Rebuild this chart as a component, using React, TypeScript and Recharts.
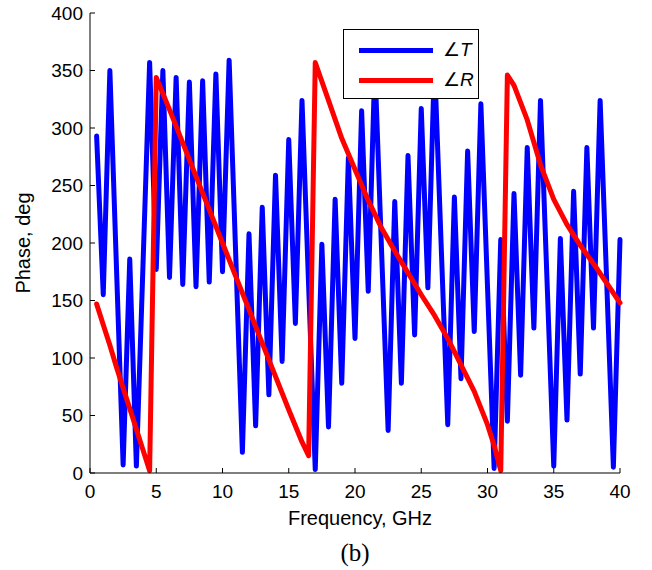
import { LineChart, Line, XAxis, YAxis, Legend } from "recharts";

// transmission phase, sampled every 0.5 GHz
const freqT = [
  0.5, 1, 1.5, 2, 2.5, 3, 3.5, 4, 4.5, 5, 5.5, 6, 6.5, 7, 7.5, 8, 8.5, 9, 9.5, 10,
  10.5, 11, 11.5, 12, 12.5, 13, 13.5, 14, 14.5, 15, 15.5, 16, 16.5, 17, 17.5, 18, 18.5, 19, 19.5, 20,
  20.5, 21, 21.5, 22, 22.5, 23, 23.5, 24, 24.5, 25, 25.5, 26, 26.5, 27, 27.5, 28, 28.5, 29, 29.5, 30,
  30.5, 31, 31.5, 32, 32.5, 33, 33.5, 34, 34.5, 35, 35.5, 36, 36.5, 37, 37.5, 38, 38.5, 39, 39.5, 40,
];
const phaseT = [
  293, 155, 350, 178, 7, 186, 6, 181, 357, 177, 350, 170, 344, 164, 340, 162, 341, 166, 347, 175,
  359, 189, 18, 208, 41, 231, 68, 259, 97, 290, 130, 324, 163, 3, 199, 40, 238, 78, 274, 117,
  315, 158, 355, 195, 37, 236, 78, 276, 120, 317, 161, 358, 199, 42, 240, 82, 280, 123, 321, 162,
  4, 203, 45, 243, 85, 283, 126, 324, 165, 6, 204, 46, 245, 86, 283, 126, 324, 165, 5, 203,
];

// reflection phase
const freqR = [
  0.5, 1, 1.5, 2, 2.5, 3, 3.5, 4, 4.5, 5, 6, 7, 8, 9, 10, 11, 12, 13, 14, 15, 16, 16.5,
  17, 18, 19, 20, 21, 22, 23, 24, 25, 26, 27, 28, 29, 30, 30.5, 31,
  31.5, 32, 33, 34, 35, 36, 37, 38, 39, 40,
];
const phaseR = [
  147, 129, 111, 92, 74, 56, 38, 20, 2, 344, 316, 287, 258, 229, 200, 171, 142, 113, 84, 55, 27, 15,
  357, 324, 291, 264, 237, 213, 193, 174, 155, 137, 117, 94, 71, 42, 24, 2,
  346, 337, 307, 268, 238, 216, 198, 182, 165, 148,
];

const xTicks = [0, 5, 10, 15, 20, 25, 30, 35, 40];
const yTicks = [0, 50, 100, 150, 200, 250, 300, 350, 400];

const dataT = freqT.map((f, i) => ({ f, p: phaseT[i] }));
const dataR = freqR.map((f, i) => ({ f, p: phaseR[i] }));

const tickStyle = { fill: "#000", fontSize: 19 };

function LegendBox() {
  const row = (color: string, label: string, top: number) => (
    <div style={{ position: "absolute", left: 0, top, width: "100%", height: 24 }}>
      <div style={{ position: "absolute", left: 15, top: 10, width: 74, height: 5, background: color }} />
      <span style={{ position: "absolute", left: 99, top: 0, fontSize: 19, lineHeight: "24px", color: "#000" }}>
        ∠<i>{label}</i>
      </span>
    </div>
  );
  return (
    <div
      style={{
        position: "relative",
        width: 134,
        height: 68,
        border: "1px solid #000",
        background: "#fff",
      }}
    >
      {row("#0000ff", "T", 8)}
      {row("#ff0000", "R", 38)}
    </div>
  );
}

export default function App() {
  return (
    <div
      style={{
        position: "absolute",
        left: 0,
        top: 0,
        width: 652,
        height: 570,
        background: "#fff",
        fontFamily: "'Liberation Sans', Arial, sans-serif",
      }}
    >
      <LineChart width={652} height={570} margin={{ top: 13, right: 32, bottom: 0, left: 0 }}>
        <XAxis
          dataKey="f"
          type="number"
          domain={[0, 40]}
          ticks={xTicks}
          interval={0}
          height={97}
          tickSize={-5}
          tickMargin={17}
          tick={tickStyle}
          stroke="#000"
          label={{
            value: "Frequency, GHz",
            position: "insideBottom",
            offset: 45,
            dx: 5,
            fill: "#000",
            fontSize: 20,
          }}
        />
        <XAxis
          xAxisId="top"
          orientation="top"
          type="number"
          domain={[0, 40]}
          ticks={xTicks}
          interval={0}
          height={0}
          tickSize={-5}
          tick={false}
          stroke="#000"
        />
        <YAxis
          type="number"
          domain={[0, 400]}
          ticks={yTicks}
          interval={0}
          width={90}
          tickSize={-5}
          tickMargin={12}
          tick={tickStyle}
          stroke="#000"
          label={{
            value: "Phase, deg",
            angle: -90,
            position: "insideLeft",
            offset: 23,
            fill: "#000",
            fontSize: 20,
            style: { textAnchor: "middle" },
          }}
        />
        <YAxis
          yAxisId="right"
          orientation="right"
          type="number"
          domain={[0, 400]}
          ticks={yTicks}
          interval={0}
          width={0}
          tickSize={-5}
          tick={false}
          stroke="#000"
        />
        <Line
          data={dataT}
          dataKey="p"
          stroke="#0000ff"
          strokeWidth={5}
          strokeLinejoin="round"
          strokeLinecap="round"
          dot={false}
          activeDot={false}
          isAnimationActive={false}
        />
        <Line
          data={dataR}
          dataKey="p"
          stroke="#ff0000"
          strokeWidth={5}
          strokeLinejoin="round"
          strokeLinecap="round"
          dot={false}
          activeDot={false}
          isAnimationActive={false}
        />
        <Legend
          layout="horizontal"
          verticalAlign="middle"
          align="center"
          content={() => <LegendBox />}
          wrapperStyle={{ left: 343, top: 29, width: 136, height: 70 }}
        />
      </LineChart>
      <div
        style={{
          position: "absolute",
          left: 90,
          width: 530,
          top: 540,
          textAlign: "center",
          fontFamily: "'Liberation Serif', 'Times New Roman', serif",
          fontSize: 25,
          lineHeight: "25px",
          color: "#000",
        }}
      >
        (b)
      </div>
    </div>
  );
}
